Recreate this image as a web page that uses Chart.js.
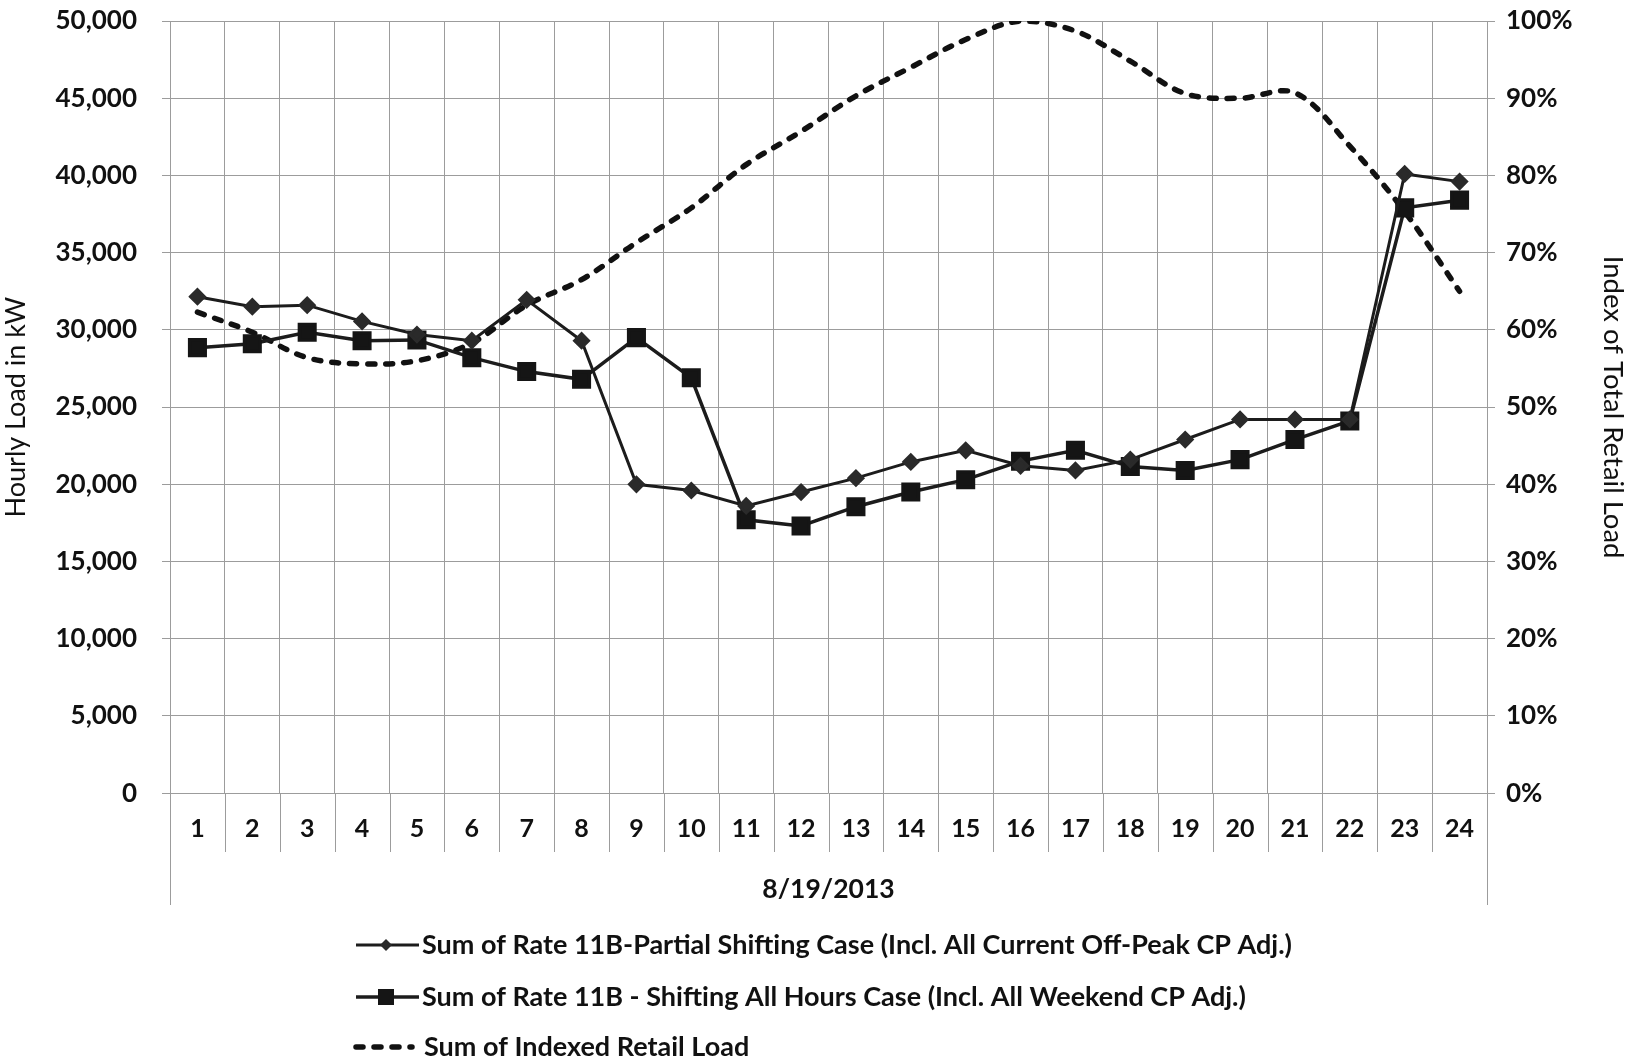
<!DOCTYPE html>
<html>
<head>
<meta charset="utf-8">
<script src="https://cdn.jsdelivr.net/npm/chart.js@4.4.1/dist/chart.umd.min.js"></script>
<style>
  html, body { margin: 0; padding: 0; background: #fff; }
</style>
</head>
<body>
<canvas id="loadChart" width="1629" height="1063"></canvas>
<script>
const hours = ['1','2','3','4','5','6','7','8','9','10','11','12','13','14','15','16','17','18','19','20','21','22','23','24'];
const dayLabel = '8/19/2013';
// kW
const partialShifting = [32150, 31500, 31600, 30550, 29700, 29300, 31950, 29300, 20000, 19600, 18600, 19500,
  20400, 21450, 22200, 21200, 20900, 21600, 22900, 24200, 24200, 24200, 40100, 39600];
const allHoursShifting = [28850, 29100, 29850, 29300, 29350, 28200, 27300, 26800, 29500, 26900, 17700, 17300,
  18550, 19500, 20300, 21500, 22200, 21150, 20900, 21600, 22900, 24100, 37900, 38400];
// percent
const indexedRetail = [62.3, 59.7, 56.4, 55.6, 56.0, 58.3, 63.2, 66.5, 71.3, 75.8, 81.4, 85.7,
  90.3, 94.0, 97.6, 100.0, 98.7, 94.8, 90.6, 90.0, 90.7, 83.8, 75.3, 65.0];

const seriesNames = [
  'Sum of Rate 11B-Partial Shifting Case (Incl. All Current Off-Peak CP Adj.)',
  'Sum of Rate 11B - Shifting All Hours Case (Incl. All Weekend CP Adj.)',
  'Sum of Indexed Retail Load'
];

const FONT = 'Lato, "Open Sans", sans-serif';
const GRID = '#9c9c9c';
const INK = '#1c1c1c';

function diamond(ctx, x, y, r) {
  ctx.beginPath();
  ctx.moveTo(x, y - r); ctx.lineTo(x + r, y); ctx.lineTo(x, y + r); ctx.lineTo(x - r, y);
  ctx.closePath(); ctx.fill();
}

// vertical category lines carried down through the label area
const categoryLines = {
  id: 'categoryLines',
  afterDraw(chart) {
    const { ctx, chartArea } = chart;
    const x = chart.scales.x;
    const n = hours.length;
    const w = (x.getPixelForValue(1) - x.getPixelForValue(0));
    ctx.save();
    ctx.strokeStyle = GRID;
    ctx.lineWidth = 1;
    for (let i = 0; i <= n; i++) {
      const px = Math.round(x.getPixelForValue(0) - w / 2 + i * w) + 0.5;
      const end = (i === 0 || i === n) ? 905 : 852;
      ctx.beginPath(); ctx.moveTo(px, chartArea.bottom); ctx.lineTo(px, end); ctx.stroke();
    }
    ctx.restore();
  }
};

const bottomLegend = {
  id: 'bottomLegend',
  afterDraw(chart) {
    const ctx = chart.ctx;
    const rows = [945, 997, 1047];
    chart.data.datasets.forEach((ds, i) => {
      const y = rows[i];
      ctx.save();
      ctx.strokeStyle = ds.borderColor;
      ctx.lineWidth = ds.borderWidth;
      ctx.setLineDash(ds.borderDash || []);
      ctx.lineCap = ds.borderCapStyle || 'butt';
      ctx.beginPath(); ctx.moveTo(356, y); ctx.lineTo(ds.borderDash ? 412 : 419, y); ctx.stroke();
      ctx.setLineDash([]);
      ctx.fillStyle = ds.pointBackgroundColor;
      if (ds.pointStyle === 'rectRot') diamond(ctx, 386, y, 6);
      if (ds.pointStyle === 'rect') ctx.fillRect(386 - 8, y - 8, 16, 16);
      ctx.fillStyle = '#111';
      ctx.font = 'bold 27px ' + FONT;
      ctx.textBaseline = 'middle';
      ctx.fillText(ds.label, ds.borderDash ? 424 : 422, y);
      ctx.restore();
    });
  }
};

// pin the side axes to the reference widths, drop the extra label padding above/below
function pinWidth(w) {
  return (s) => { s.width = w; s.paddingTop = 0; s.paddingBottom = 0; };
}

new Chart(document.getElementById('loadChart'), {
  type: 'line',
  data: {
    labels: hours,
    datasets: [
      {
        label: seriesNames[0],
        data: partialShifting,
        yAxisID: 'y',
        borderColor: INK,
        borderWidth: 3,
        pointStyle: 'rectRot',
        pointRadius: 7,
        pointBackgroundColor: '#2a2a2a',
        pointBorderColor: '#2a2a2a',
        tension: 0
      },
      {
        label: seriesNames[1],
        data: allHoursShifting,
        yAxisID: 'y',
        borderColor: INK,
        borderWidth: 3.5,
        pointStyle: 'rect',
        pointRadius: 11,
        pointBackgroundColor: '#151515',
        pointBorderColor: '#151515',
        tension: 0
      },
      {
        label: seriesNames[2],
        data: indexedRetail,
        yAxisID: 'y2',
        borderColor: '#111',
        borderWidth: 5.5,
        borderDash: [7, 11],
        borderCapStyle: 'round',
        pointRadius: 0,
        pointBackgroundColor: INK,
        tension: 0.35
      }
    ]
  },
  options: {
    responsive: false,
    animation: false,
    layout: { padding: { top: 21, bottom: 158, left: 0, right: 0 } },
    plugins: {
      legend: { display: false },
      tooltip: { enabled: false }
    },
    scales: {
      x: {
        offset: true,
        grid: { offset: true, color: GRID, lineWidth: 1, drawTicks: false },
        border: { display: false },
        ticks: { color: '#111', padding: 21, font: { family: FONT, size: 25, weight: 'bold' } },
        title: {
          display: true, text: dayLabel, color: '#111',
          font: { family: FONT, size: 26.5, weight: 'bold' },
          padding: { top: 8, bottom: 0 }
        }
      },
      y: {
        position: 'left',
        min: 0, max: 50000,
        afterFit: pinWidth(170),
        grid: { color: GRID, lineWidth: 1, drawTicks: true, tickLength: 8 },
        border: { display: false },
        ticks: {
          stepSize: 5000, color: '#111', padding: 25,
          font: { family: FONT, size: 26, weight: 'bold' },
          callback: (v) => v.toLocaleString('en-US')
        },
        title: {
          display: true, text: 'Hourly Load in kW', color: '#111',
          font: { family: FONT, size: 27 },
          padding: { top: 0, bottom: 0 }
        }
      },
      y2: {
        position: 'right',
        min: 0, max: 100,
        afterFit: pinWidth(142),
        grid: { drawOnChartArea: false, color: GRID, drawTicks: true, tickLength: 8 },
        border: { display: false },
        ticks: {
          stepSize: 10, color: '#111', padding: 11,
          font: { family: FONT, size: 26, weight: 'bold' },
          callback: (v) => v + '%'
        },
        title: {
          display: true, text: 'Index of Total Retail Load', color: '#111',
          font: { family: FONT, size: 27.5 },
          padding: { top: 0, bottom: 4 }
        }
      }
    }
  },
  plugins: [categoryLines, bottomLegend]
});
</script>
</body>
</html>
